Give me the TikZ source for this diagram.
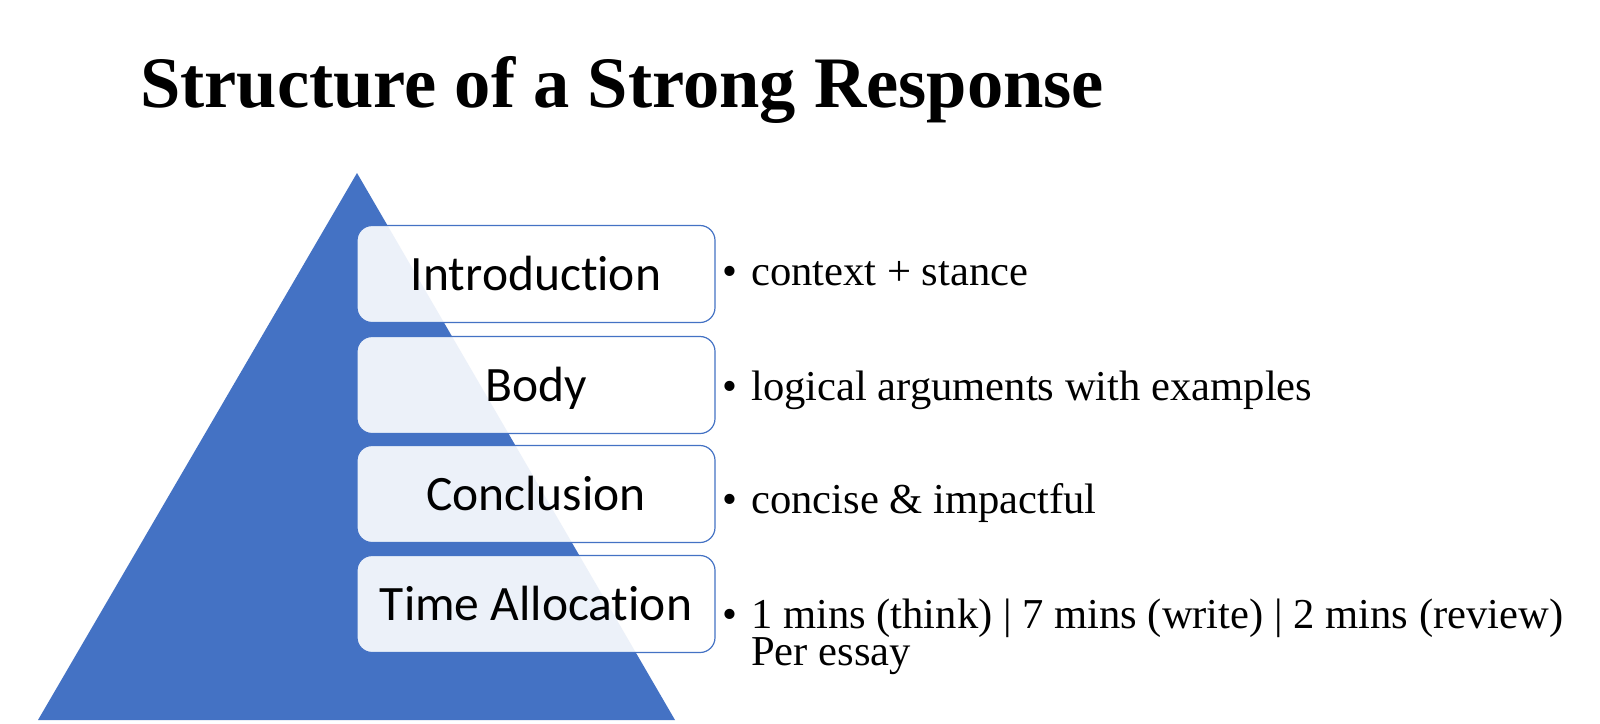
\documentclass[tikz,border=0pt]{standalone}
\usepackage{fontspec}
\setmainfont{Liberation Serif}
\newfontfamily\boxfont[Ligatures=NoCommon]{Carlito}
\definecolor{pyrblue}{HTML}{4472C4}
\begin{document}
\begin{tikzpicture}[x=1pt,y=-1pt,
  level/.style={rectangle, rounded corners=15pt, draw=pyrblue, line width=1.2pt,
    fill=white, fill opacity=0.9, text opacity=1, minimum width=358pt, minimum height=97pt,
    inner sep=0pt, text height=32pt, text depth=0pt, font=\boxfont\fontsize{49.5}{52}\selectfont},
  item/.style={anchor=base west, inner sep=0pt, font=\fontsize{42.6}{36}\selectfont},
  titlestyle/.style={anchor=base west, inner sep=0pt, font=\bfseries\fontsize{72.5}{80}\selectfont}]
\useasboundingbox (0,0) rectangle (1600,723);
\fill[white] (0,0) rectangle (1600,723);
\node[titlestyle] (title) at (140,107) {Structure of a Strong Response};
\fill[pyrblue] (357,173) coordinate (apex) -- (675,720) coordinate (br) -- (38,720) coordinate (bl) -- cycle;
\node[level] (intro) at (536,274) {Introduction};
\node[level] (body) at (536,385) {Body};
\node[level] (concl) at (536,494) {Conclusion};
\node[level] (time) at (536,604) {Time Allocation};
\node[item] (i1) at (722,285) {\makebox[29pt][l]{•}context + stance};
\node[item] (i2) at (722,400) {\makebox[29pt][l]{•}logical arguments with examples};
\node[item] (i3) at (722,513) {\makebox[29pt][l]{•}concise \& impactful};
\node[item] (i4) at (722,628) {\makebox[29pt][l]{•}1 mins (think) | 7 mins (write) | 2 mins (review)};
\node[item] (i4b) at (751,665) {Per essay};
\end{tikzpicture}
\end{document}
